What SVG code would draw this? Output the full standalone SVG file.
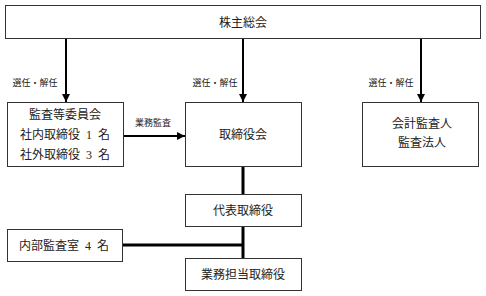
<svg xmlns="http://www.w3.org/2000/svg" width="486" height="296" viewBox="0 0 486 296">
<defs>
<marker id="ah" viewBox="0 0 10 10" refX="10" refY="5" markerWidth="4" markerHeight="4" orient="auto" markerUnits="strokeWidth">
<path d="M0,0 L10,5 L0,10 z" fill="#000"/>
</marker>
<style>
.box{fill:#fff;stroke:#333;stroke-width:1}
.t{font-family:"Liberation Serif","Noto Sans CJK JP",serif;font-size:12px;fill:#222;text-anchor:middle;dominant-baseline:central}
.s{font-family:"Liberation Serif","Noto Sans CJK JP",serif;font-size:9px;fill:#222;text-anchor:middle;dominant-baseline:central}
.a{stroke:#000;stroke-width:2;fill:none;marker-end:url(#ah)}
.l{stroke:#000;stroke-width:3;fill:none}
</style>
</defs>
<rect width="486" height="296" fill="#fff"/>
<g id="connectors">
<line class="a" x1="66" y1="38" x2="66" y2="102"/>
<line class="a" x1="243" y1="38" x2="243" y2="102"/>
<line class="a" x1="421" y1="38" x2="421" y2="102"/>
<line class="a" x1="124" y1="136" x2="185" y2="136"/>
<line class="l" x1="243" y1="167" x2="243" y2="194"/>
<line class="l" x1="243" y1="226" x2="243" y2="258"/>
<line class="l" x1="123" y1="245" x2="243" y2="245"/>
<text class="s" x="35" y="83">選任・解任</text>
<text class="s" x="215" y="83">選任・解任</text>
<text class="s" x="391" y="83">選任・解任</text>
<text class="s" x="153" y="123">業務監査</text>
</g>
<g id="shareholders">
<rect class="box" x="5.5" y="5.5" width="475" height="33"/>
<text class="t" x="243" y="23">株主総会</text>
</g>
<g id="audit-committee">
<rect class="box" x="7.5" y="102.5" width="116" height="64"/>
<text class="t" x="65" y="115">監査等委員会</text>
<text class="t" x="65" y="135">社内取締役&#8194;1&#8194;名</text>
<text class="t" x="65" y="155">社外取締役&#8194;3&#8194;名</text>
</g>
<g id="board">
<rect class="box" x="185.5" y="102.5" width="116" height="64"/>
<text class="t" x="243" y="135">取締役会</text>
</g>
<g id="auditor">
<rect class="box" x="362.5" y="102.5" width="116" height="64"/>
<text class="t" x="422" y="124">会計監査人</text>
<text class="t" x="422" y="143">監査法人</text>
</g>
<g id="representative">
<rect class="box" x="185.5" y="194.5" width="116" height="32"/>
<text class="t" x="243" y="211">代表取締役</text>
</g>
<g id="internal-audit">
<rect class="box" x="7.5" y="229.5" width="115" height="32"/>
<text class="t" x="64" y="246">内部監査室&#8194;4&#8194;名</text>
</g>
<g id="executive">
<rect class="box" x="185.5" y="258.5" width="116" height="32"/>
<text class="t" x="243" y="275">業務担当取締役</text>
</g>
</svg>
